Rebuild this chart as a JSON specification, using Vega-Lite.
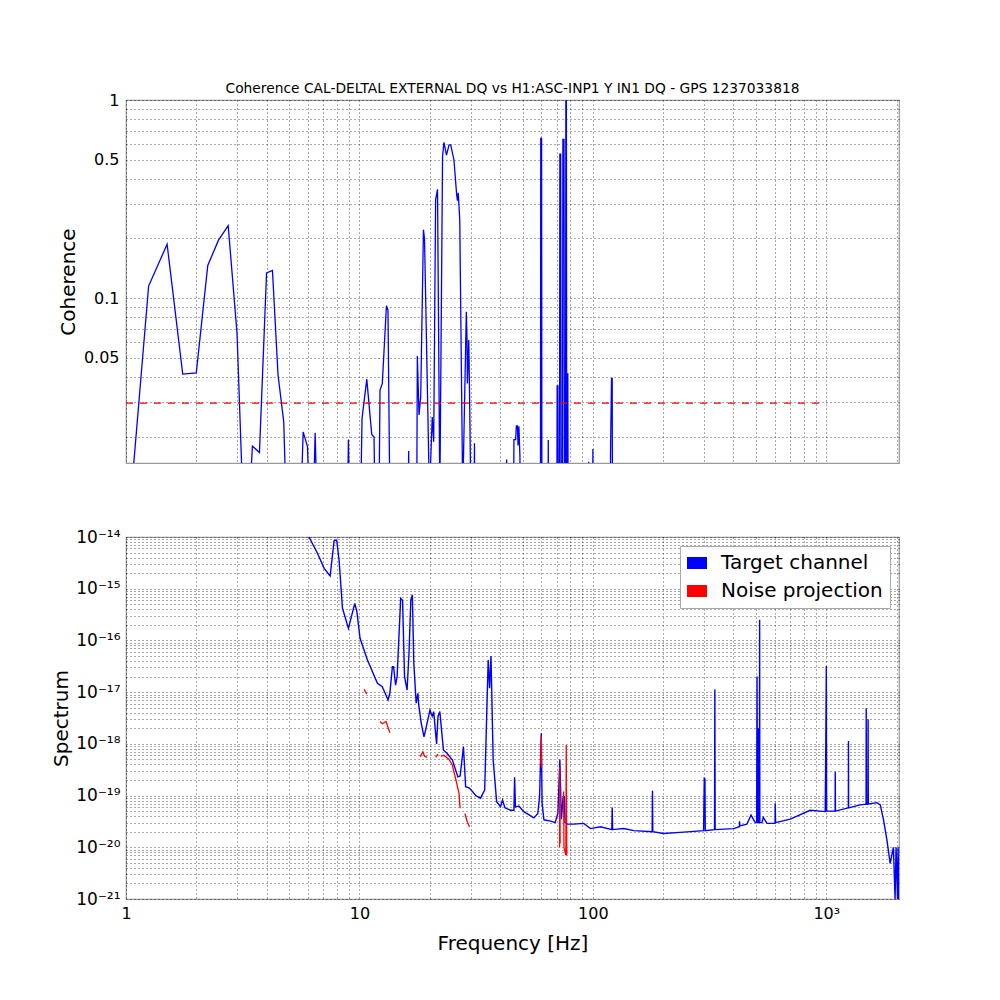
{
"$schema": "https://vega.github.io/schema/vega-lite/v6.json",
"padding": {"left": 50, "top": 81, "right": 5, "bottom": 5},
"bounds": "flush",
"spacing": 74,
"resolve": {"scale": {"color": "independent"}, "legend": {"color": "independent"}},
"config": {
 "font": "DejaVu Sans",
 "view": {"stroke": "#999", "strokeWidth": 1.2},
 "axis": {"grid": true, "gridColor": "#000", "gridDash": [1, 3], "gridWidth": 0.8, "gridOpacity": 0.85, "ticks": false, "domain": false, "labelFontSize": 16, "labelColor": "#000", "titleFontSize": 20, "titleFontWeight": "normal", "titleColor": "#000", "labelOverlap": false, "labelBound": false, "labelFlush": false}
},
"datasets": {
 "coh": [
  {"f":1.0,"c":0.005},{"f":1.25,"c":0.115},{"f":1.5,"c":0.187},{"f":1.75,"c":0.0413},{"f":2.0,"c":0.0419},{"f":2.24,"c":0.146},{"f":2.49,"c":0.196},{"f":2.74,"c":0.232},{"f":2.99,"c":0.0663},{"f":3.25,"c":0.004},{"f":3.48,"c":0.0179},{"f":3.73,"c":0.0166},{"f":4.0,"c":0.134},{"f":4.24,"c":0.138},{"f":4.48,"c":0.0409},{"f":4.74,"c":0.0237},{"f":4.95,"c":0.004},{"f":5.49,"c":0.004},{"f":5.74,"c":0.0211},{"f":5.99,"c":0.0178},{"f":6.24,"c":0.004},{"f":6.46,"c":0.0209},{"f":6.7,"c":0.004},{"f":8.8,"c":0.004},{"f":8.97,"c":0.0193},{"f":9.15,"c":0.004},{"f":10.0,"c":0.004},{"f":10.26,"c":0.0247},{"f":10.75,"c":0.039},{"f":11.29,"c":0.0205},{"f":11.55,"c":0.0199},{"f":11.75,"c":0.004},{"f":12.05,"c":0.004},{"f":12.25,"c":0.0343},{"f":12.53,"c":0.0371},{"f":13.05,"c":0.0915},{"f":13.25,"c":0.087},{"f":13.6,"c":0.004},{"f":16.1,"c":0.004},{"f":16.25,"c":0.0169},{"f":16.4,"c":0.004},{"f":17.55,"c":0.004},{"f":17.7,"c":0.051},{"f":18.0,"c":0.0257},{"f":18.3,"c":0.0317},{"f":18.8,"c":0.221},{"f":19.0,"c":0.2},{"f":19.95,"c":0.01},{"f":20.5,"c":0.0251},{"f":20.8,"c":0.0188},{"f":21.2,"c":0.313},{"f":21.6,"c":0.354},{"f":22.1,"c":0.01},{"f":22.7,"c":0.517},{"f":23.0,"c":0.611},{"f":23.6,"c":0.527},{"f":24.2,"c":0.593},{"f":24.6,"c":0.593},{"f":25.4,"c":0.498},{"f":26.1,"c":0.331},{"f":26.3,"c":0.31},{"f":26.5,"c":0.34},{"f":26.9,"c":0.248},{"f":27.7,"c":0.01},{"f":28.7,"c":0.0853},{"f":28.9,"c":0.0614},{"f":29.0,"c":0.037},{"f":29.4,"c":0.0614},{"f":29.6,"c":0.0357},{"f":30.0,"c":0.01},{"f":30.9,"c":0.004},{"f":31.1,"c":0.0185},{"f":31.3,"c":0.004},{"f":42.5,"c":0.004},{"f":42.7,"c":0.0153},{"f":42.9,"c":0.004},{"f":45.6,"c":0.004},{"f":45.9,"c":0.0193},{"f":46.7,"c":0.0193},{"f":47.0,"c":0.0226},{"f":47.5,"c":0.0226},{"f":47.8,"c":0.018},{"f":48.2,"c":0.0225},{"f":48.7,"c":0.0158},{"f":49.0,"c":0.004},{"f":59.6,"c":0.004},{"f":59.8,"c":0.64},{"f":60.3,"c":0.64},{"f":60.5,"c":0.004},{"f":64.2,"c":0.004},{"f":64.4,"c":0.0192},{"f":64.6,"c":0.004},{"f":70.0,"c":0.004},{"f":70.3,"c":0.036},{"f":70.8,"c":0.036},{"f":71.2,"c":0.004},{"f":71.9,"c":0.004},{"f":72.2,"c":0.533},{"f":72.8,"c":0.533},{"f":73.2,"c":0.004},{"f":74.0,"c":0.004},{"f":74.4,"c":0.633},{"f":75.2,"c":0.633},{"f":75.6,"c":0.004},{"f":76.3,"c":0.004},{"f":76.6,"c":0.99},{"f":77.0,"c":0.99},{"f":77.3,"c":0.004},{"f":77.8,"c":0.004},{"f":78.1,"c":0.0417},{"f":78.4,"c":0.004},{"f":95.8,"c":0.004},{"f":96.0,"c":0.0149},{"f":96.2,"c":0.004},{"f":99.6,"c":0.004},{"f":100.0,"c":0.0173},{"f":100.4,"c":0.004},{"f":118.6,"c":0.004},{"f":119.0,"c":0.0164},{"f":120.2,"c":0.0393},{"f":121.0,"c":0.0393},{"f":121.4,"c":0.004},{"f":2048,"c":0.004}
 ],
 "thr": [{"f":1,"c":0.0295},{"f":1000,"c":0.0295}],
 "spec": [
  {"f":1,"v":1e-11},{"f":3,"v":1e-12},{"f":5,"v":8e-14},{"f":5.8,"v":1.5e-14},{"f":6.61,"v":4.84e-15},{"f":7.06,"v":2.48e-15},{"f":7.49,"v":1.76e-15},{"f":7.79,"v":8.5e-15},{"f":7.99,"v":8.7e-15},{"f":8.18,"v":3.6e-15},{"f":8.46,"v":4.18e-16},{"f":8.97,"v":1.71e-16},{"f":9.55,"v":5.2e-16},{"f":9.75,"v":3.6e-16},{"f":10.06,"v":1.1e-16},{"f":10.82,"v":4.18e-17},{"f":11.94,"v":1.48e-17},{"f":12.53,"v":1.27e-17},{"f":13.26,"v":7.05e-18},{"f":13.5,"v":9.5e-18},{"f":13.84,"v":3.1e-17},{"f":14.0,"v":3.1e-17},{"f":14.28,"v":1.37e-17},{"f":14.5,"v":2e-17},{"f":15.02,"v":6.5e-16},{"f":15.3,"v":6.0e-16},{"f":15.6,"v":2e-17},{"f":16.0,"v":1.1e-17},{"f":16.3,"v":5.6e-17},{"f":16.6,"v":6e-16},{"f":16.85,"v":7.6e-16},{"f":17.1,"v":3.6e-17},{"f":17.5,"v":6.1e-18},{"f":17.8,"v":9.5e-18},{"f":17.95,"v":5.6e-18},{"f":18.4,"v":2.5e-18},{"f":18.9,"v":1.37e-18},{"f":19.2,"v":1.85e-18},{"f":20.05,"v":4.5e-18},{"f":20.5,"v":3.4e-18},{"f":20.8,"v":4.2e-18},{"f":21.4,"v":1.0e-18},{"f":21.7,"v":3.4e-18},{"f":22.1,"v":4.2e-18},{"f":22.9,"v":7.6e-19},{"f":23.7,"v":6.6e-19},{"f":25.0,"v":4.9e-19},{"f":26.4,"v":2.3e-19},{"f":27.0,"v":2.4e-19},{"f":27.9,"v":8.8e-19},{"f":28.5,"v":1.48e-19},{"f":29.6,"v":1.4e-19},{"f":31.5,"v":1.0e-19},{"f":33.0,"v":8.9e-20},{"f":34.4,"v":1.28e-19},{"f":35.6,"v":4.2e-17},{"f":36.1,"v":1.19e-17},{"f":36.6,"v":5.0e-17},{"f":37.4,"v":4.9e-19},{"f":38.7,"v":7.6e-20},{"f":40.2,"v":6.1e-20},{"f":41.0,"v":8.2e-20},{"f":42.0,"v":5.8e-20},{"f":44.4,"v":5.2e-20},{"f":45.9,"v":5.2e-20},{"f":46.2,"v":2.25e-19},{"f":46.6,"v":6e-20},{"f":48.2,"v":6.3e-20},{"f":50.6,"v":4.9e-20},{"f":55.9,"v":3.7e-20},{"f":58.1,"v":4.5e-20},{"f":59.1,"v":9.5e-20},{"f":60.1,"v":1.6e-18},{"f":60.6,"v":7.1e-20},{"f":61.7,"v":3.4e-20},{"f":65.9,"v":3.2e-20},{"f":68.9,"v":3.0e-20},{"f":70.8,"v":4.5e-20},{"f":72.2,"v":5e-19},{"f":73.3,"v":3.5e-20},{"f":74.6,"v":9.5e-20},{"f":75.4,"v":9.5e-20},{"f":76.0,"v":3e-20},{"f":77.6,"v":2.8e-20},{"f":82.8,"v":2.8e-20},{"f":91.4,"v":2.9e-20},{"f":97.7,"v":2.3e-20},{"f":107.8,"v":2.5e-20},{"f":120.5,"v":2.2e-20},{"f":121,"v":5.9e-20},{"f":121.5,"v":2.2e-20},{"f":135.6,"v":2.3e-20},{"f":149.7,"v":2.1e-20},{"f":179.4,"v":2e-20},{"f":180,"v":1.24e-19},{"f":180.6,"v":2e-20},{"f":201,"v":1.85e-20},{"f":245,"v":1.96e-20},{"f":298,"v":2.1e-20},{"f":300,"v":2.15e-19},{"f":302,"v":2.1e-19},{"f":303,"v":2.1e-20},{"f":332,"v":2.2e-20},{"f":333,"v":1.13e-17},{"f":334,"v":2.2e-20},{"f":401,"v":2.3e-20},{"f":424,"v":2.5e-20},{"f":425,"v":3.2e-20},{"f":426,"v":2.6e-20},{"f":457,"v":2.8e-20},{"f":476,"v":4.2e-20},{"f":496,"v":3e-20},{"f":503,"v":3e-20},{"f":505,"v":2e-17},{"f":507,"v":3e-20},{"f":511,"v":3e-20},{"f":512,"v":2e-18},{"f":514,"v":3e-20},{"f":517,"v":3e-20},{"f":518,"v":2.5e-16},{"f":519,"v":3e-20},{"f":530,"v":3e-20},{"f":537,"v":3.8e-20},{"f":557,"v":2.9e-20},{"f":603,"v":2.9e-20},{"f":604,"v":7.1e-20},{"f":606,"v":3e-20},{"f":701,"v":3.5e-20},{"f":853,"v":5.2e-20},{"f":989,"v":4.9e-20},{"f":995,"v":1.1e-18},{"f":1000,"v":3.2e-17},{"f":1003,"v":5e-20},{"f":1091,"v":5e-20},{"f":1092,"v":2.9e-19},{"f":1094,"v":5e-20},{"f":1243,"v":5.8e-20},{"f":1244,"v":1.13e-18},{"f":1246,"v":5.8e-20},{"f":1397,"v":6.6e-20},{"f":1480,"v":6.8e-20},{"f":1482,"v":4.9e-18},{"f":1486,"v":6.8e-20},{"f":1508,"v":6.8e-20},{"f":1510,"v":3e-18},{"f":1513,"v":6.9e-20},{"f":1647,"v":7.3e-20},{"f":1703,"v":6.6e-20},{"f":1758,"v":3.4e-20},{"f":1817,"v":1.4e-20},{"f":1877,"v":4.9e-21},{"f":1938,"v":1.0e-20},{"f":1970,"v":1e-21},{"f":1990,"v":1e-20},{"f":2018,"v":1e-21},{"f":2030,"v":1e-20},{"f":2048,"v":8e-22}
 ],
 "noise": [
  {"f":10.47,"v":1.13e-17,"seg":1},{"f":10.75,"v":9.2e-18,"seg":1},
  {"f":12.25,"v":2.7e-18,"seg":2},{"f":12.53,"v":2.45e-18,"seg":2},{"f":13.0,"v":2.7e-18,"seg":2},{"f":13.5,"v":1.64e-18,"seg":2},
  {"f":18.2,"v":5.6e-19,"seg":3},{"f":18.7,"v":7e-19,"seg":3},{"f":19.0,"v":5.8e-19,"seg":3},{"f":19.5,"v":5.5e-19,"seg":3},
  {"f":21.2,"v":5.5e-19,"seg":4},{"f":21.7,"v":6.3e-19,"seg":4},
  {"f":22.3,"v":5.8e-19,"seg":5},{"f":23.0,"v":6.0e-19,"seg":5},{"f":24.2,"v":5e-19,"seg":5},{"f":25.0,"v":3.9e-19,"seg":5},{"f":25.9,"v":2.0e-19,"seg":5},{"f":26.7,"v":1.1e-19,"seg":5},{"f":27.0,"v":5.7e-20,"seg":5},
  {"f":28.3,"v":4.5e-20,"seg":6},{"f":28.9,"v":3.2e-20,"seg":6},{"f":29.6,"v":2.5e-20,"seg":6},
  {"f":59.9,"v":4e-19,"seg":7},{"f":60.1,"v":1.4e-18,"seg":7},{"f":60.3,"v":3.5e-19,"seg":7},
  {"f":72.0,"v":1e-20,"seg":8},{"f":72.2,"v":3.6e-19,"seg":8},{"f":72.4,"v":1.2e-20,"seg":8},
  {"f":74.9,"v":1.2e-19,"seg":9},{"f":75.2,"v":1e-20,"seg":9},{"f":76.6,"v":7e-21,"seg":9},{"f":76.9,"v":9.5e-19,"seg":9},{"f":77.3,"v":7e-21,"seg":9}
 ]
},
"vconcat": [
 {
  "width": 773, "height": 363,
  "title": {"text": "Coherence CAL-DELTAL EXTERNAL DQ vs H1:ASC-INP1 Y IN1 DQ - GPS 1237033818", "fontSize": 13.8, "fontWeight": "normal", "color": "#000", "anchor": "middle", "offset": -4},
  "layer": [
   {
    "data": {"name": "coh"},
    "mark": {"type": "line", "color": "#0000ff", "strokeWidth": 1.3, "clip": true},
    "encoding": {
     "x": {"field": "f", "type": "quantitative", "scale": {"type": "log", "domain": [1, 2048], "nice": false},
      "axis": {"values": [1,2,3,4,5,6,7,8,9,10,20,30,40,50,60,70,80,90,100,200,300,400,500,600,700,800,900,1000,2000], "labels": false, "title": null}},
     "y": {"field": "c", "type": "quantitative", "scale": {"type": "log", "domain": [0.0147, 1], "nice": false},
      "axis": {"values": [0.02,0.03,0.04,0.05,0.06,0.07,0.08,0.09,0.1,0.2,0.3,0.4,0.5,0.6,0.7,0.8,0.9,1],
       "labelExpr": "datum.value == 1 ? '1' : datum.value == 0.5 ? '0.5' : datum.value == 0.1 ? '0.1' : datum.value == 0.05 ? '0.05' : ''",
       "labelPadding": 7, "title": "Coherence", "titleX": -48}}
    }
   },
   {
    "data": {"name": "thr"},
    "mark": {"type": "line", "color": "#ff0000", "strokeWidth": 1.2, "strokeDash": [7, 7]},
    "encoding": {
     "x": {"field": "f", "type": "quantitative"},
     "y": {"field": "c", "type": "quantitative"}
    }
   }
  ]
 },
 {
  "width": 773, "height": 362,
  "layer": [
   {
    "data": {"name": "spec"},
    "mark": {"type": "line", "strokeWidth": 1.4, "clip": true},
    "encoding": {
     "x": {"field": "f", "type": "quantitative", "scale": {"type": "log", "domain": [1, 2048], "nice": false},
      "axis": {"values": [1,2,3,4,5,6,7,8,9,10,20,30,40,50,60,70,80,90,100,200,300,400,500,600,700,800,900,1000,2000],
       "labelExpr": "datum.value == 1 ? '1' : datum.value == 10 ? '10' : datum.value == 100 ? '100' : datum.value == 1000 ? '10³' : ''",
       "labelPadding": 6, "title": "Frequency [Hz]", "titlePadding": 12}},
     "y": {"field": "v", "type": "quantitative", "scale": {"type": "log", "domain": [1e-21, 1e-14], "nice": false},
      "axis": {"values": [1e-21,2e-21,3e-21,4e-21,5e-21,6e-21,7e-21,8e-21,9e-21,1e-20,2e-20,3e-20,4e-20,5e-20,6e-20,7e-20,8e-20,9e-20,1e-19,2e-19,3e-19,4e-19,5e-19,6e-19,7e-19,8e-19,9e-19,1e-18,2e-18,3e-18,4e-18,5e-18,6e-18,7e-18,8e-18,9e-18,1e-17,2e-17,3e-17,4e-17,5e-17,6e-17,7e-17,8e-17,9e-17,1e-16,2e-16,3e-16,4e-16,5e-16,6e-16,7e-16,8e-16,9e-16,1e-15,2e-15,3e-15,4e-15,5e-15,6e-15,7e-15,8e-15,9e-15,1e-14],
       "labelExpr": "abs(log(datum.value)/LN10 - round(log(datum.value)/LN10)) < 0.01 ? ['10⁻²¹','10⁻²⁰','10⁻¹⁹','10⁻¹⁸','10⁻¹⁷','10⁻¹⁶','10⁻¹⁵','10⁻¹⁴'][round(log(datum.value)/LN10) + 21] : ''",
       "labelPadding": 6, "labelFontSize": 17, "title": "Spectrum", "titleX": -55}},
     "color": {"datum": "Target channel", "type": "nominal",
      "scale": {"domain": ["Target channel", "Noise projection"], "range": ["#0000ff", "#ff0000"]},
      "legend": {"title": null, "orient": "top-right", "offset": 9, "labelFontSize": 20, "labelLimit": 400, "labelColor": "#000", "fillColor": "#fff", "strokeColor": "#aaa", "padding": 7, "rowPadding": 8, "labelOffset": 14,
       "symbolType": "M-1,-0.6H1V0.6H-1Z", "symbolSize": 400,
       "encode": {"symbols": {"update": {"fill": {"signal": "datum.value === 'Target channel' ? '#0000ff' : '#ff0000'"}, "strokeWidth": {"value": 0}, "opacity": {"value": 1}}}}}}
    }
   },
   {
    "data": {"name": "noise"},
    "mark": {"type": "line", "strokeWidth": 1.3, "clip": true},
    "encoding": {
     "x": {"field": "f", "type": "quantitative"},
     "y": {"field": "v", "type": "quantitative"},
     "detail": {"field": "seg", "type": "nominal"},
     "color": {"datum": "Noise projection", "type": "nominal"}
    }
   }
  ]
 }
]
}
